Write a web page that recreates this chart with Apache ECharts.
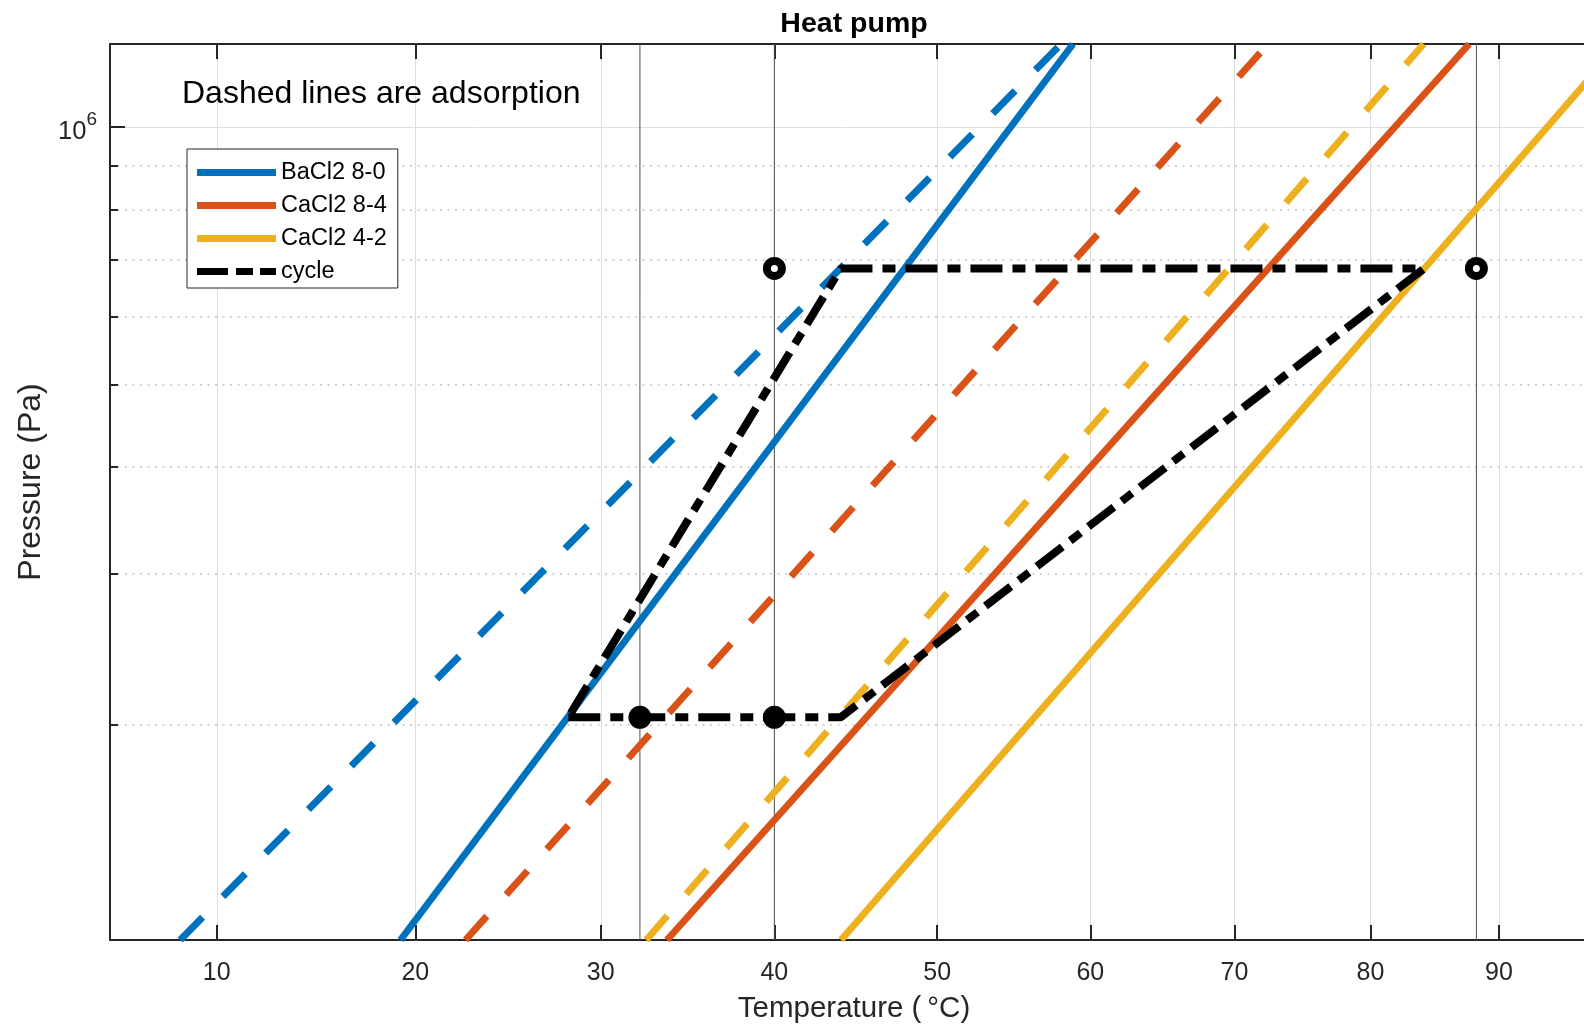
<!DOCTYPE html>
<html>
<head>
<meta charset="utf-8">
<script src="https://cdn.jsdelivr.net/npm/echarts@6/dist/echarts.min.js"></script>
<style>
html, body { margin: 0; padding: 0; background: #fff; }
#main { width: 1584px; height: 1027px; }
</style>
</head>
<body>
<div id="main"></div>
<script>
// x axis is -1000/T(K), so Clausius-Clapeyron lines come out straight; labels are in degC
var toX = function (c) { return -1000 / (c + 273.15); };
var fromX = function (v) { return -1000 / v - 273.15; };

var xRange = [4.9, 98.1];        // degC at the two axis ends
var yRange = [1.12e5, 1.25e6];   // Pa
var xTicks = [10, 20, 30, 40, 50, 60, 70, 80, 90];
var yMajor = [1e6];
var yMinor = [2e5, 3e5, 4e5, 5e5, 6e5, 7e5, 8e5, 9e5];

// equilibrium lines, temperature where each meets the bottom / top pressure
var names = ['BaCl2 8-0', 'CaCl2 8-4', 'CaCl2 4-2'];
var colors = ['#0072BD', '#D95319', '#EDB120'];
var desorbT = [[19.23, 58.84], [33.74, 87.63], [44.02, 99.9]];
var adsorbT = [[8.23, 58.04], [22.64, 72.42], [32.56, 84.07]];

// cycle
var pLow = 2.04e5, pHigh = 6.83e5;
var cycleT = [28.2, 44.0, 84.1, 44.0, 28.2];
var cycleP = [pLow, pLow, pHigh, pHigh, pLow];
var dotT = [32.2, 40];       // filled markers on pLow
var ringT = [40, 88.2];      // open markers on pHigh
var refT = [32.2, 40, 88.2]; // thin vertical lines

var FONT = "'Liberation Sans', Arial, Helvetica, sans-serif";
var AX = '#262626';

var myChart = echarts.init(document.getElementById('main'));

var series = [];
// thin vertical reference lines, full height
refT.forEach(function (t) {
    series.push({
        type: 'line',
        symbol: 'none',
        silent: true,
        z: 1,
        lineStyle: { color: '#505050', width: 1 },
        data: [[toX(t), yRange[0]], [toX(t), yRange[1]]]
    });
});
names.forEach(function (n, i) {
    series.push({
        name: n,
        type: 'line',
        symbol: 'none',
        z: 2,
        lineStyle: { color: colors[i], width: 7 },
        itemStyle: { color: colors[i] },
        data: [[toX(desorbT[i][0]), yRange[0]], [toX(desorbT[i][1]), yRange[1]]]
    });
    series.push({
        name: n + ' ads',
        type: 'line',
        symbol: 'none',
        z: 2,
        lineStyle: { color: colors[i], width: 7, type: [32, 29] },
        itemStyle: { color: colors[i] },
        data: [[toX(adsorbT[i][0]), yRange[0]], [toX(adsorbT[i][1]), yRange[1]]]
    });
});
series.push({
    name: 'cycle',
    type: 'line',
    symbol: 'none',
    z: 3,
    lineStyle: { color: '#000', width: 8, type: [32, 10, 13, 10] },
    itemStyle: { color: '#000' },
    data: cycleT.map(function (t, i) { return [toX(t), cycleP[i]]; })
});
series.push({
    type: 'scatter',
    z: 4,
    symbolSize: 23,
    itemStyle: { color: '#000', opacity: 1 },
    data: dotT.map(function (t) { return [toX(t), pLow]; })
});
series.push({
    type: 'scatter',
    z: 4,
    symbolSize: 15,
    itemStyle: { color: '#fff', borderColor: '#000', borderWidth: 8, opacity: 1 },
    data: ringT.map(function (t) { return [toX(t), pHigh]; })
});

var xTickVals = xTicks.map(toX);
var legendItems = names.map(function (n) { return { name: n, icon: 'rect' }; });
legendItems.push({ name: 'cycle', icon: 'path://M0 0H31V7H0Z M39 0H56V7H39Z M63 0H79V7H63Z' });

var option = {
    animation: false,
    backgroundColor: '#fff',
    textStyle: { fontFamily: FONT },
    title: [{
        text: 'Heat pump',
        left: 854,
        top: 10,
        padding: 0,
        textAlign: 'center',
        textStyle: { fontSize: 28.5, fontWeight: 'bold', color: '#000', fontFamily: FONT }
    }, {
        text: 'Dashed lines are adsorption',
        left: 182,
        top: 78,
        padding: 0,
        textStyle: { fontSize: 32, fontWeight: 'normal', color: '#000', fontFamily: FONT }
    }],
    legend: {
        data: legendItems,
        orient: 'vertical',
        left: 187,
        top: 149,
        padding: [11.5, 11, 4.5, 10],
        itemWidth: 79,
        itemHeight: 7,
        itemGap: 9,
        backgroundColor: '#fff',
        borderColor: AX,
        borderWidth: 1,
        borderRadius: 0,
        selectedMode: false,
        textStyle: { fontSize: 23.5, color: '#000', fontFamily: FONT }
    },
    grid: {
        left: 110,
        right: -14,
        top: 44,
        bottom: 87,
        outerBoundsMode: 'none'
    },
    xAxis: [{
        type: 'value',
        position: 'bottom',
        min: toX(xRange[0]),
        max: toX(xRange[1]),
        name: 'Temperature (\u2009°C)',
        nameLocation: 'middle',
        nameGap: 54,
        nameTextStyle: { fontSize: 29.5, color: AX, fontFamily: FONT },
        axisLine: { show: true, onZero: false, lineStyle: { color: AX, width: 2 } },
        axisTick: { show: true, inside: true, length: 15, customValues: xTickVals, lineStyle: { color: AX, width: 2 } },
        axisLabel: {
            customValues: xTickVals,
            margin: 21,
            fontSize: 25,
            color: AX,
            fontFamily: FONT,
            formatter: function (v) { return String(Math.round(fromX(v))); }
        },
        splitLine: { show: true, lineStyle: { color: '#dedede', width: 1 } }
    }, {
        type: 'value',
        position: 'top',
        min: toX(xRange[0]),
        max: toX(xRange[1]),
        axisLine: { show: true, onZero: false, lineStyle: { color: AX, width: 2 } },
        axisTick: { show: true, inside: true, length: 15, customValues: xTickVals, lineStyle: { color: AX, width: 2 } },
        axisLabel: { show: false },
        splitLine: { show: false }
    }],
    yAxis: [{
        type: 'log',
        position: 'left',
        min: yRange[0],
        max: yRange[1],
        name: 'Pressure (Pa)',
        nameLocation: 'middle',
        nameGap: 60,
        nameTextStyle: { fontSize: 32, color: AX, fontFamily: FONT, padding: [0, 0, 0, 20] },
        axisLine: { show: true, onZero: false, lineStyle: { color: AX, width: 2 } },
        axisTick: { show: true, inside: true, length: 15, customValues: yMajor, lineStyle: { color: AX, width: 2 } },
        axisLabel: {
            customValues: yMajor,
            margin: 13,
            formatter: function () { return '{b|10}{s|6}'; },
            rich: {
                b: { fontSize: 25.5, color: AX, fontFamily: FONT, lineHeight: 36, verticalAlign: 'bottom' },
                s: { fontSize: 19, color: AX, fontFamily: FONT, verticalAlign: 'top', padding: [1, 0, 0, 0] }
            }
        },
        splitLine: { show: true, lineStyle: { color: '#dedede', width: 1 } }
    }, {
        type: 'log',
        position: 'left',
        min: yRange[0],
        max: yRange[1],
        axisLine: { show: false },
        axisTick: { show: true, inside: true, length: 8, customValues: yMinor, lineStyle: { color: AX, width: 2 } },
        axisLabel: { show: false },
        splitLine: { show: true, lineStyle: { color: '#c4c4c4', width: 1.5, type: [2, 5.5] } }
    }],
    series: series
};
myChart.setOption(option);
</script>
</body>
</html>
